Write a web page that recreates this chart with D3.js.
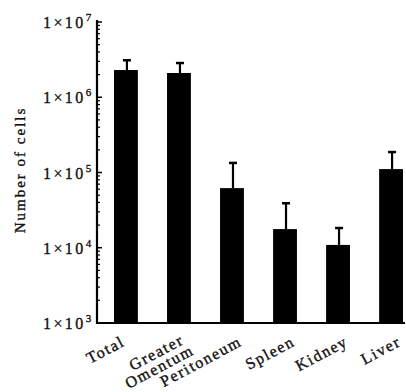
<!DOCTYPE html>
<html>
<head>
<meta charset="utf-8">
<script src="https://cdn.jsdelivr.net/npm/d3@7"></script>
<style>
	body { margin: 0; background: #fff; }
	svg text { font-family: "Liberation Serif", "DejaVu Serif", serif; fill: #111; stroke: #111; stroke-width: 0.35; }
</style>
</head>
<body>
<div id="chart"></div>
<script>
// data
const categories = ["Total", "Greater Omentum", "Peritoneum", "Spleen", "Kidney", "Liver"];
const cellCounts = [2.3e6, 2.1e6, 6.2e4, 1.77e4, 1.09e4, 1.11e5];
const errorTops = [3.1e6, 2.85e6, 1.34e5, 3.9e4, 1.83e4, 1.87e5];
const yTickValues = [1e3, 1e4, 1e5, 1e6, 1e7];
const yTickExponents = ["3", "4", "5", "6", "7"];

const WIDTH = 406;
const HEIGHT = 392;

// the hand-placed labels do not all sit at the same offset
const LABEL_NUDGE = { Total: -11, "Greater Omentum": -4 };

const svg = d3.select("#chart").append("svg")
	.attr("width", WIDTH)
	.attr("height", HEIGHT);

// scales
const yScale = d3.scaleLog().domain([1e3, 1e7]).range([323, 22]);

const xScale = d3.scaleBand()
	.domain(categories)
	.range([114, 403])
	.paddingInner(0.55)
	.paddingOuter(0);

const AXIS_X = 97;

// bars
svg.selectAll(".bar")
	.data(categories)
	.enter()
	.append("rect")
	.attr("class", "bar")
	.attr("x", (d) => xScale(d))
	.attr("width", xScale.bandwidth())
	.attr("y", (d, i) => yScale(cellCounts[i]))
	.attr("height", (d, i) => yScale(1e3) - yScale(cellCounts[i]))
	.attr("fill", "#000");

// error bars (upper only)
const err = svg.selectAll(".err")
	.data(categories)
	.enter()
	.append("g")
	.attr("class", "err")
	.attr("transform", (d) => `translate(${xScale(d) + xScale.bandwidth() / 2 + 1}, 0)`);

err.append("line")
	.attr("x1", 0).attr("x2", 0)
	.attr("y1", (d, i) => yScale(cellCounts[i]))
	.attr("y2", (d, i) => yScale(errorTops[i]))
	.attr("stroke", "#000")
	.attr("stroke-width", 2.2);

err.append("line")
	.attr("x1", -4).attr("x2", 4)
	.attr("y1", (d, i) => yScale(errorTops[i]))
	.attr("y2", (d, i) => yScale(errorTops[i]))
	.attr("stroke", "#000")
	.attr("stroke-width", 2.5);

// y axis with minor ticks
const minorTicks = yScale.ticks().filter((v) => yTickValues.indexOf(v) < 0);

svg.append("g")
	.selectAll("line")
	.data(minorTicks)
	.enter()
	.append("line")
	.attr("x1", AXIS_X)
	.attr("x2", AXIS_X + 3)
	.attr("y1", (d) => yScale(d))
	.attr("y2", (d) => yScale(d))
	.attr("stroke", "#000")
	.attr("stroke-width", 1.2);

svg.append("g")
	.selectAll("line")
	.data(yTickValues)
	.enter()
	.append("line")
	.attr("x1", AXIS_X)
	.attr("x2", AXIS_X + 5)
	.attr("y1", (d) => yScale(d))
	.attr("y2", (d) => yScale(d))
	.attr("stroke", "#000")
	.attr("stroke-width", 1.5);

svg.append("line")
	.attr("x1", AXIS_X).attr("x2", AXIS_X)
	.attr("y1", yScale(1e7) - 2).attr("y2", yScale(1e3) + 1)
	.attr("stroke", "#000")
	.attr("stroke-width", 2.2);

// x axis line
svg.append("line")
	.attr("x1", AXIS_X - 1).attr("x2", 405)
	.attr("y1", yScale(1e3)).attr("y2", yScale(1e3))
	.attr("stroke", "#000")
	.attr("stroke-width", 2.2);

// y tick labels: 1×10^n
const yLabels = svg.append("g")
	.selectAll("text")
	.data(yTickValues)
	.enter()
	.append("text")
	.attr("x", 43)
	.attr("y", (d) => yScale(d) + 6)
	.style("font-size", "16px");

yLabels.append("tspan")
	.style("letter-spacing", "2.4px")
	.text("1×10");
yLabels.append("tspan")
	.attr("dy", -7)
	.style("font-size", "11px")
	.text((d, i) => yTickExponents[i]);

// y axis title
svg.append("text")
	.attr("transform", `translate(25, 170) rotate(-90)`)
	.attr("text-anchor", "middle")
	.style("font-size", "15px")
	.style("letter-spacing", "2px")
	.text("Number of cells");

// x tick labels, rotated
const xLabels = svg.append("g")
	.selectAll("text")
	.data(categories)
	.enter()
	.append("text")
	.attr("text-anchor", "end")
	.attr("transform", (d) => {
		const x = xScale(d) + xScale.bandwidth() / 2 + 11 + (LABEL_NUDGE[d] || 0);
		return `translate(${x}, 345) rotate(-28)`;
	})
	.style("font-size", "16px")
	.style("letter-spacing", "1.6px");

xLabels.each(function (d) {
	const words = d.split(" ");
	const t = d3.select(this);
	if (words.length === 1) {
		t.text(d);
	} else {
		t.append("tspan").attr("x", 0).attr("dy", -2).text(words[0]);
		t.append("tspan").attr("x", 4).attr("dy", 14).text(words[1]);
	}
});
</script>
</body>
</html>
